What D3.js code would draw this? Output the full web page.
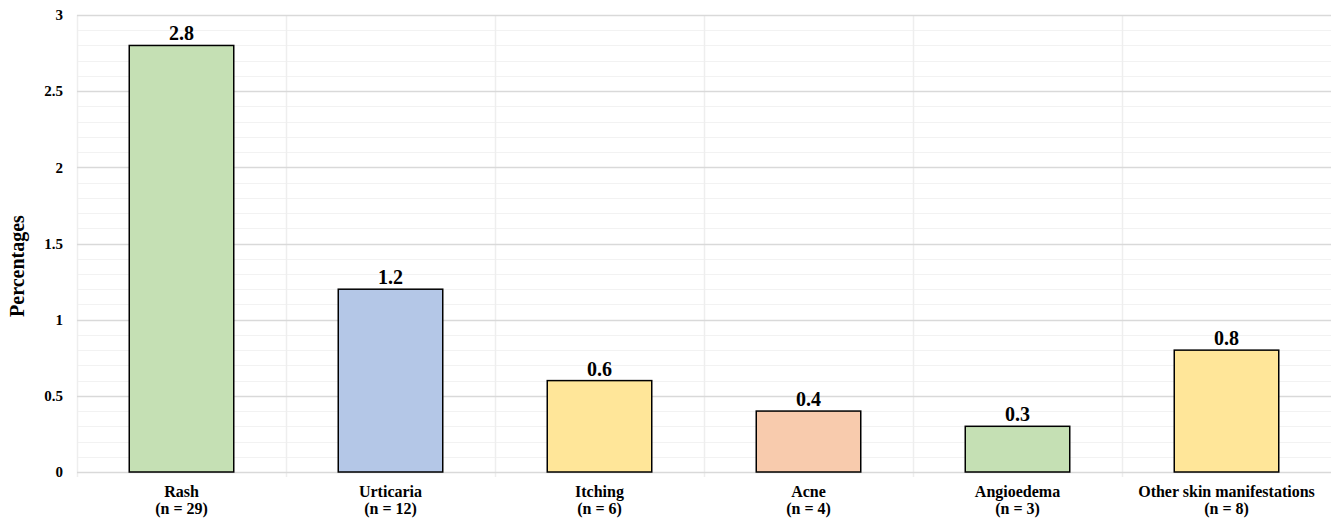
<!DOCTYPE html>
<html>
<head>
<meta charset="utf-8">
<script src="https://cdn.jsdelivr.net/npm/d3@7"></script>
<style>
  body { margin: 0; background: #fff; }
  svg { display: block; }
  text { font-family: "Liberation Serif", "Times New Roman", serif; font-weight: bold; fill: #000; }
</style>
</head>
<body>
<svg id="chart" width="1331" height="518"></svg>
<script>
// Skin manifestations: share of patients (%) with case counts
const categories = ["Rash", "Urticaria", "Itching", "Acne", "Angioedema", "Other skin manifestations"];
const counts = [29, 12, 6, 4, 3, 8];
const percentages = [2.8, 1.2, 0.6, 0.4, 0.3, 0.8];
const barColors = ["#c5e0b4", "#b4c7e7", "#ffe699", "#f8cbad", "#c5e0b4", "#ffe699"];
const yTicks = [0, 0.5, 1, 1.5, 2, 2.5, 3];
const yMinorTicks = d3.range(0, 3.0001, 0.1);

const width = 1331, height = 518;
const margin = { top: 15, right: 0, bottom: 46, left: 77 };
const svg = d3.select("#chart");

const x = d3.scaleBand()
  .domain(categories)
  .range([margin.left, width - margin.right])
  .paddingInner(0.5)
  .paddingOuter(0.25);

const y = d3.scaleLinear()
  .domain([0, 3])
  .range([height - margin.bottom, margin.top]);

// Minor horizontal grid
svg.append("g")
  .selectAll("line")
  .data(yMinorTicks)
  .join("line")
  .attr("x1", margin.left).attr("x2", width - margin.right)
  .attr("y1", d => Math.round(y(d)) + 0.5).attr("y2", d => Math.round(y(d)) + 0.5)
  .attr("stroke", "#f2f2f2").attr("stroke-width", 1);

// Vertical grid at category boundaries
const boundaries = d3.range(categories.length).map(i => margin.left + i * (width - margin.left - margin.right) / categories.length);
svg.append("g")
  .selectAll("line")
  .data(boundaries)
  .join("line")
  .attr("x1", d => Math.round(d) + 0.5).attr("x2", d => Math.round(d) + 0.5)
  .attr("y1", margin.top).attr("y2", height - margin.bottom + 5)
  .attr("stroke", "#eeeeee").attr("stroke-width", 1.5);

// Major horizontal grid
svg.append("g")
  .selectAll("line")
  .data(yTicks)
  .join("line")
  .attr("x1", margin.left).attr("x2", width - margin.right)
  .attr("y1", d => Math.round(y(d)) + 0.5).attr("y2", d => Math.round(y(d)) + 0.5)
  .attr("stroke", "#d9d9d9").attr("stroke-width", 1.5);

// Y axis labels
const yAxis = d3.axisLeft(y).tickValues(yTicks).tickFormat(d3.format("")).tickSize(0).tickPadding(14);
const gy = svg.append("g")
  .attr("transform", `translate(${margin.left},0)`)
  .call(yAxis);
gy.select(".domain").remove();
gy.selectAll("text")
  .style("font-family", '"Liberation Serif", "Times New Roman", serif')
  .style("font-weight", "bold")
  .style("font-size", "15px")
  .attr("fill", "#000");

// Y axis title
svg.append("text")
  .attr("transform", `translate(24,266) rotate(-90)`)
  .attr("text-anchor", "middle")
  .style("font-size", "20px")
  .text("Percentages");

// Bars
svg.append("g")
  .selectAll("rect")
  .data(categories)
  .join("rect")
  .attr("x", d => x(d))
  .attr("y", (d, i) => y(percentages[i]))
  .attr("width", x.bandwidth())
  .attr("height", (d, i) => y(0) - y(percentages[i]))
  .attr("fill", (d, i) => barColors[i])
  .attr("stroke", "#000")
  .attr("stroke-width", 1.5);

// Value labels
svg.append("g")
  .selectAll("text")
  .data(categories)
  .join("text")
  .attr("x", d => x(d) + x.bandwidth() / 2)
  .attr("y", (d, i) => y(percentages[i]) - 5)
  .attr("text-anchor", "middle")
  .style("font-size", "20px")
  .text((d, i) => percentages[i]);

// Category labels
const cat = svg.append("g")
  .selectAll("text")
  .data(categories)
  .join("text")
  .attr("text-anchor", "middle")
  .style("font-size", "16px");
cat.append("tspan")
  .attr("x", d => x(d) + x.bandwidth() / 2)
  .attr("y", 497)
  .text(d => d);
cat.append("tspan")
  .attr("x", d => x(d) + x.bandwidth() / 2)
  .attr("y", 514)
  .text((d, i) => `(n = ${counts[i]})`);
</script>
</body>
</html>
